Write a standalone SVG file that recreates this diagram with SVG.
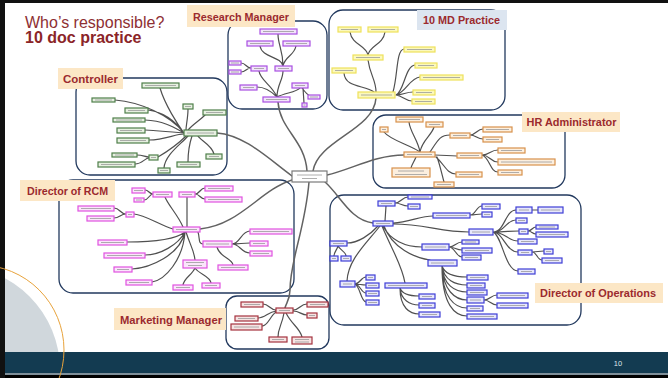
<svg xmlns="http://www.w3.org/2000/svg" width="668" height="378" viewBox="0 0 668 378">
<style>
.reg{fill:#fff;stroke:#22395e;stroke-width:1.3}
.lab{fill:#fce7c6}
.labt{font-family:"Liberation Sans",Arial,sans-serif;font-weight:bold;font-size:11.5px;fill:#9b2a2e;text-anchor:middle}
.e{fill:none;stroke:#505050;stroke-width:1.2;stroke-linecap:round}
.m{fill:none;stroke:#626262;stroke-width:1.5;stroke-linecap:round}
.n rect{stroke-width:1.2}
.n path{fill:none;stroke:#9a9a9a;stroke-width:0.8}
.rm rect{fill:#f2e5fa;stroke:#a94fe2}
.md rect{fill:#fbf8bd;stroke:#eee25a}
.ct rect{fill:#e7f0e1;stroke:#4f7f4a}
.hr rect{fill:#fcefdf;stroke:#d8914c}
.rc rect{fill:#fbe5fb;stroke:#e052e0}
.op rect{fill:#e7e7fb;stroke:#3e3ed6}
.mk rect{fill:#f6e3e3;stroke:#a5323f}
.ctr rect{fill:#fff;stroke:#7a7a7a}
</style>

<!-- slide background and decoration -->
<rect x="0" y="0" width="668" height="378" fill="#fff"/>
<circle cx="-44" cy="370" r="104" fill="#d0d7dc"/>

<!-- title -->
<text x="25" y="27.5" font-family="'Liberation Sans',Arial,sans-serif" font-size="16" fill="#8e2f33">Who’s responsible?</text>
<text x="25" y="43" font-family="'Liberation Sans',Arial,sans-serif" font-size="16" font-weight="bold" fill="#8b2528">10 doc practice</text>

<!-- region frames -->
<g id="regions">
<rect class="reg" x="228" y="21" width="99" height="88" rx="14"/>
<rect class="reg" x="329" y="10" width="176" height="100" rx="14"/>
<rect class="reg" x="76" y="78" width="151" height="97" rx="14"/>
<rect class="reg" x="373" y="115" width="192" height="73" rx="13"/>
<rect class="reg" x="59" y="180" width="235" height="113" rx="14"/>
<rect class="reg" x="330" y="195" width="251" height="130" rx="14"/>
<rect class="reg" x="226" y="296" width="103" height="53" rx="11"/>
</g>

<g id="connectors">
<!-- trunk lines from the central node -->
<path class="m" d="M278,102 C280,130 305,140 307,171"/>
<path class="m" d="M376,98 C374,130 318,140 313,171"/>
<path class="m" d="M217,133 C245,135 270,160 292,176"/>
<path class="m" d="M327,175 C350,170 375,155 404,155"/>
<path class="m" d="M200,229 C240,225 260,190 292,180"/>
<path class="m" d="M325,182 C340,195 350,220 373,223"/>
<path class="m" d="M309,182 C305,230 290,260 290,290 C290,300 286,303 285,308"/>
<!-- research -->
<path class="e" d="M283,66 C283,50 278,45 278,34 M260,46 C262,58 281,56 283,66 M296,46 C294,56 285,56 283,66 M251,68 C246,68 246,63 241,63 M251,68 C246,68 246,72 241,72 M277,97 C277,85 283,80 283,71 M277,97 C272,85 260,80 259,71 M277,97 C270,90 263,87 257,87 M277,97 C285,93 297,92 300,88 M302,88 C305,92 308,95 310,96 M303,88 L304,103"/>
<!-- 10 MD -->
<path class="e" d="M350,32 C352,45 366,45 368,55 M385,32 C383,45 370,45 368,55 M368,60 C370,75 376,80 376,92 M374,92 C365,85 345,88 344,73 M393,92 C398,75 396,50 404,49 M396,95 C404,92 405,66 415,65 M396,95 C406,92 410,78 420,77 M396,95 C403,95 406,92 413,92 M396,95 C403,96 405,101 412,101"/>
<!-- controller -->
<path class="e" d="M160,88 C165,105 178,125 184,133 M115,100 C140,102 170,115 184,133 M148,110 C165,112 176,122 184,133 M188,109 C188,118 186,125 186,130 M205,115 C200,120 192,125 188,130 M145,120 C165,121 175,128 184,133 M145,130 C160,131 172,132 184,133 M149,140 C165,140 175,134 184,134 M158,157 C170,150 180,142 186,136 M137,155 C143,155 145,157 149,157 M135,164 C142,164 145,158 149,158 M164,168 C165,155 180,145 188,136 M188,162 C188,150 190,142 192,136 M214,154 C212,145 200,140 198,136"/>
<!-- HR -->
<path class="e" d="M420,152 C410,145 390,140 384,132 M420,152 C418,140 410,132 409,122 M420,152 C422,140 432,135 434,127 M430,152 C438,140 440,135 450,135 M470,135 C476,135 477,129 483,129 M470,135 C476,135 477,139 483,139 M435,155 C445,155 448,156 457,156 M482,155 C490,155 490,150 498,150 M482,155 C490,155 490,162 498,162 M482,155 C490,158 490,172 498,172 M416,157 C414,162 412,164 411,168 M436,157 C445,165 447,174 456,174 M437,157 C440,165 442,175 444,182"/>
<!-- RCM -->
<path class="e" d="M183,227 C178,215 168,205 165,197 M153,194 C149,194 149,190 145,190 M153,194 C149,194 149,200 144,200 M187,227 L187,197 M195,194 C200,194 200,188 205,188 M195,194 C200,194 200,199 205,199 M173,229 C160,225 145,215 134,214 M126,214 C120,214 120,208 114,208 M126,214 C120,214 120,218 114,218 M185,232 C175,240 150,242 127,242 M185,232 C178,245 160,255 145,255 M185,232 C180,255 150,268 132,269 M185,232 C183,260 165,280 152,282 M186,232 C190,245 194,250 195,260 M195,268 C192,275 184,278 183,285 M195,268 C200,275 210,276 211,283 M198,232 C200,238 198,244 203,244 M232,244 C240,244 241,231 250,231 M232,244 C240,244 242,243 250,243 M232,244 C240,244 241,253 250,253 M217,247 C220,258 232,258 233,265"/>
<!-- operations -->
<path class="e" d="M385,221 L386,206 M395,203 C401,203 402,197 408,197 M395,203 C401,203 402,206 408,206 M393,223 C410,222 420,216 433,216 M470,215 C476,215 476,206 482,206 M470,215 C476,215 476,214 482,214 M393,224 C425,224 440,232 469,232 M493,232 C505,232 505,210 516,210 M493,232 C505,232 506,220 516,220 M493,232 C505,232 510,231 519,231 M493,232 C505,232 508,241 518,241 M493,232 C503,232 506,252 518,252 M493,232 C502,235 505,271 518,271 M532,210 L538,210 M528,231 C532,231 532,227 536,227 M528,231 C532,231 532,234 536,234 M532,252 L544,251 M532,252 C537,252 537,260 542,260 M378,226 C370,235 358,243 347,243 M338,246 C337,250 334,252 334,256 M338,246 C340,250 346,252 346,256 M383,226 C390,240 405,247 422,247 M449,247 C455,247 456,242 462,242 M449,247 C455,247 456,250 462,250 M449,247 C455,247 456,257 462,257 M384,226 C392,248 415,258 430,260 M442,266 C445,275 455,277 467,277 M442,266 C444,280 455,285 467,285 M442,266 C443,285 455,292 467,292 M442,266 C443,290 455,300 467,300 M442,266 C442,298 455,308 467,308 M442,266 C442,305 455,316 467,316 M484,300 C490,300 491,295 497,295 M484,300 C490,300 491,305 497,305 M380,226 C365,245 348,260 347,281 M355,284 C360,284 361,277 366,277 M355,284 C360,284 361,285 366,285 M355,284 C360,284 361,293 366,293 M355,284 C360,286 361,302 366,302 M382,226 C392,250 402,265 405,283 M400,288 C402,294 410,296 419,296 M400,288 C401,300 410,305 419,305 M400,288 C400,308 410,314 419,314"/>
<!-- marketing -->
<path class="e" d="M276,310 C270,310 269,304 263,304 M276,311 C268,312 265,318 258,318 M276,312 C270,316 268,326 262,326 M293,310 C300,310 300,304 307,304 M293,311 C300,311 301,315 307,315 M284,313 C282,325 278,328 278,337 M286,313 C292,325 300,328 302,337"/>
</g>

<!-- central node -->
<g id="center" class="n ctr"><rect x="292" y="171" width="35" height="11"/><path d="M297 175H322 M302 178.5H317"/></g>

<!-- research manager map -->
<g id="r1" class="n rm"><rect x="260" y="29" width="37" height="5"/><path d="M263 31.5H294"/></g>
<g id="r2" class="n rm"><rect x="247" y="41" width="26" height="5"/><path d="M250 43.5H270"/></g>
<g id="r3" class="n rm"><rect x="283" y="41" width="27" height="5"/><path d="M286 43.5H307"/></g>
<g id="r4" class="n rm"><rect x="229" y="61" width="12" height="4"/><path d="M231 63H239"/></g>
<g id="r5" class="n rm"><rect x="229" y="70" width="12" height="4"/><path d="M231 72H239"/></g>
<g id="r6" class="n rm"><rect x="251" y="66" width="16" height="5"/><path d="M254 68.5H264"/></g>
<g id="r7" class="n rm"><rect x="275" y="66" width="17" height="5"/><path d="M278 68.5H289"/></g>
<g id="r8" class="n rm"><rect x="240" y="85" width="17" height="5"/><path d="M243 87.5H254"/></g>
<g id="r9" class="n rm"><rect x="292" y="83" width="16" height="5"/><path d="M295 85.5H305"/></g>
<g id="r10" class="n rm"><rect x="263" y="97" width="27" height="5"/><path d="M266 99.5H287"/></g>
<g id="r11" class="n rm"><rect x="308" y="95" width="12" height="4"/><path d="M310 97H318"/></g>
<g id="r12" class="n rm"><rect x="302" y="103" width="5" height="4"/><path d="M303.5 105H305.5"/></g>

<!-- 10 MD practice map -->
<g id="m1" class="n md"><rect x="338" y="27" width="23" height="5"/><path d="M341 29.5H358"/></g>
<g id="m2" class="n md"><rect x="368" y="27" width="30" height="5"/><path d="M371 29.5H395"/></g>
<g id="m3" class="n md"><rect x="353" y="55" width="30" height="5"/><path d="M356 57.5H380"/></g>
<g id="m4" class="n md"><rect x="332" y="68" width="24" height="5"/><path d="M335 70.5H353"/></g>
<g id="m5" class="n md"><rect x="404" y="47" width="31" height="5"/><path d="M407 49.5H432"/></g>
<g id="m6" class="n md"><rect x="415" y="63" width="22" height="5"/><path d="M418 65.5H434"/></g>
<g id="m7" class="n md"><rect x="420" y="75" width="43" height="5"/><path d="M423 77.5H460"/></g>
<g id="m8" class="n md"><rect x="413" y="90" width="22" height="5"/><path d="M416 92.5H432"/></g>
<g id="m9" class="n md"><rect x="412" y="99" width="23" height="5"/><path d="M415 101.5H432"/></g>
<g id="m10" class="n md"><rect x="358" y="92" width="37" height="6"/><path d="M361 95H392"/></g>

<!-- controller map -->
<g id="c1" class="n ct"><rect x="142" y="83" width="37" height="5"/><path d="M145 85.5H176"/></g>
<g id="c2" class="n ct"><rect x="92" y="98" width="23" height="4"/><path d="M95 100H112"/></g>
<g id="c3" class="n ct"><rect x="125" y="108" width="23" height="5"/><path d="M128 110.5H145"/></g>
<g id="c4" class="n ct"><rect x="183" y="104" width="10" height="5"/><path d="M185 106.5H191"/></g>
<g id="c5" class="n ct"><rect x="203" y="110" width="23" height="5"/><path d="M206 112.5H223"/></g>
<g id="c6" class="n ct"><rect x="113" y="118" width="32" height="4"/><path d="M116 120H142"/></g>
<g id="c7" class="n ct"><rect x="117" y="128" width="28" height="5"/><path d="M120 130.5H142"/></g>
<g id="c8" class="n ct"><rect x="117" y="138" width="32" height="5"/><path d="M120 140.5H146"/></g>
<g id="c9" class="n ct"><rect x="184" y="130" width="33" height="6"/><path d="M187 133H214"/></g>
<g id="c10" class="n ct"><rect x="112" y="153" width="25" height="4"/><path d="M115 155H134"/></g>
<g id="c11" class="n ct"><rect x="98" y="162" width="37" height="5"/><path d="M101 164.5H132"/></g>
<g id="c12" class="n ct"><rect x="149" y="155" width="9" height="5"/><path d="M151 157.5H156"/></g>
<g id="c13" class="n ct"><rect x="158" y="168" width="12" height="5"/><path d="M160 170.5H168"/></g>
<g id="c14" class="n ct"><rect x="177" y="162" width="23" height="5"/><path d="M180 164.5H197"/></g>
<g id="c15" class="n ct"><rect x="206" y="154" width="16" height="5"/><path d="M209 156.5H219"/></g>

<!-- HR administrator map -->
<g id="h1" class="n hr"><rect x="380" y="127" width="8" height="5"/><path d="M382 129.5H386"/></g>
<g id="h2" class="n hr"><rect x="396" y="117" width="27" height="5"/><path d="M399 119.5H420"/></g>
<g id="h3" class="n hr"><rect x="426" y="122" width="17" height="5"/><path d="M429 124.5H440"/></g>
<g id="h4" class="n hr"><rect x="450" y="133" width="20" height="5"/><path d="M453 135.5H467"/></g>
<g id="h5" class="n hr"><rect x="483" y="127" width="29" height="5"/><path d="M486 129.5H509"/></g>
<g id="h6" class="n hr"><rect x="483" y="137" width="19" height="5"/><path d="M486 139.5H499"/></g>
<g id="h7" class="n hr"><rect x="404" y="152" width="31" height="5"/><path d="M407 154.5H432"/></g>
<g id="h8" class="n hr"><rect x="457" y="153" width="25" height="5"/><path d="M460 155.5H479"/></g>
<g id="h9" class="n hr"><rect x="498" y="148" width="27" height="5"/><path d="M501 150.5H522"/></g>
<g id="h10" class="n hr"><rect x="498" y="159" width="57" height="6"/><path d="M501 162H552"/></g>
<g id="h11" class="n hr"><rect x="498" y="170" width="24" height="5"/><path d="M501 172.5H519"/></g>
<g id="h12" class="n hr"><rect x="392" y="168" width="38" height="9"/><path d="M398 171H424 M395 174.5H427"/></g>
<g id="h13" class="n hr"><rect x="456" y="172" width="26" height="5"/><path d="M459 174.5H479"/></g>
<g id="h14" class="n hr"><rect x="434" y="182" width="20" height="5"/><path d="M437 184.5H451"/></g>

<!-- RCM map -->
<g id="d1" class="n rc"><rect x="132" y="188" width="13" height="5"/><path d="M134 190.5H143"/></g>
<g id="d2" class="n rc"><rect x="134" y="198" width="10" height="4"/><path d="M136 200H142"/></g>
<g id="d3" class="n rc"><rect x="153" y="192" width="19" height="5"/><path d="M156 194.5H169"/></g>
<g id="d4" class="n rc"><rect x="179" y="192" width="16" height="5"/><path d="M182 194.5H192"/></g>
<g id="d5" class="n rc"><rect x="205" y="186" width="28" height="5"/><path d="M208 188.5H230"/></g>
<g id="d6" class="n rc"><rect x="205" y="197" width="37" height="5"/><path d="M208 199.5H239"/></g>
<g id="d7" class="n rc"><rect x="78" y="206" width="36" height="5"/><path d="M81 208.5H111"/></g>
<g id="d8" class="n rc"><rect x="87" y="216" width="27" height="5"/><path d="M90 218.5H111"/></g>
<g id="d9" class="n rc"><rect x="126" y="212" width="8" height="5"/><path d="M128 214.5H132"/></g>
<g id="d10" class="n rc"><rect x="173" y="227" width="27" height="5"/><path d="M176 229.5H197"/></g>
<g id="d11" class="n rc"><rect x="98" y="240" width="29" height="5"/><path d="M101 242.5H124"/></g>
<g id="d12" class="n rc"><rect x="203" y="241" width="29" height="6"/><path d="M206 244H229"/></g>
<g id="d13" class="n rc"><rect x="250" y="229" width="42" height="5"/><path d="M253 231.5H289"/></g>
<g id="d14" class="n rc"><rect x="250" y="241" width="18" height="5"/><path d="M253 243.5H265"/></g>
<g id="d15" class="n rc"><rect x="250" y="251" width="22" height="5"/><path d="M253 253.5H269"/></g>
<g id="d16" class="n rc"><rect x="104" y="253" width="41" height="5"/><path d="M107 255.5H142"/></g>
<g id="d17" class="n rc"><rect x="114" y="267" width="18" height="5"/><path d="M117 269.5H129"/></g>
<g id="d18" class="n rc"><rect x="183" y="260" width="24" height="8"/><path d="M186 262.5H204 M188 265.5H202"/></g>
<g id="d19" class="n rc"><rect x="218" y="265" width="30" height="5"/><path d="M221 267.5H245"/></g>
<g id="d20" class="n rc"><rect x="126" y="280" width="26" height="5"/><path d="M129 282.5H149"/></g>
<g id="d21" class="n rc"><rect x="173" y="285" width="20" height="5"/><path d="M176 287.5H190"/></g>
<g id="d22" class="n rc"><rect x="202" y="283" width="18" height="5"/><path d="M205 285.5H217"/></g>

<!-- operations map -->
<g id="o1" class="n op"><rect x="378" y="201" width="17" height="5"/><path d="M381 203.5H392"/></g>
<g id="o2" class="n op"><rect x="408" y="195" width="24" height="4"/><path d="M411 197H429"/></g>
<g id="o3" class="n op"><rect x="408" y="204" width="12" height="5"/><path d="M410 206.5H418"/></g>
<g id="o4" class="n op"><rect x="373" y="221" width="20" height="5"/><path d="M376 223.5H390"/></g>
<g id="o5" class="n op"><rect x="433" y="213" width="37" height="5"/><path d="M436 215.5H467"/></g>
<g id="o6" class="n op"><rect x="482" y="204" width="18" height="5"/><path d="M485 206.5H497"/></g>
<g id="o7" class="n op"><rect x="482" y="212" width="10" height="5"/><path d="M484 214.5H490"/></g>
<g id="o8" class="n op"><rect x="469" y="229" width="24" height="6"/><path d="M472 232H490"/></g>
<g id="o9" class="n op"><rect x="516" y="207" width="16" height="6"/><path d="M519 210H529"/></g>
<g id="o10" class="n op"><rect x="538" y="207" width="25" height="6"/><path d="M541 210H560"/></g>
<g id="o11" class="n op"><rect x="516" y="218" width="11" height="5"/><path d="M518 220.5H525"/></g>
<g id="o12" class="n op"><rect x="519" y="229" width="9" height="5"/><path d="M521 231.5H526"/></g>
<g id="o13" class="n op"><rect x="536" y="225" width="22" height="4"/><path d="M539 227H555"/></g>
<g id="o14" class="n op"><rect x="536" y="232" width="32" height="5"/><path d="M539 234.5H565"/></g>
<g id="o15" class="n op"><rect x="518" y="239" width="19" height="5"/><path d="M521 241.5H534"/></g>
<g id="o16" class="n op"><rect x="518" y="250" width="14" height="5"/><path d="M521 252.5H529"/></g>
<g id="o17" class="n op"><rect x="544" y="249" width="9" height="5"/><path d="M546 251.5H551"/></g>
<g id="o18" class="n op"><rect x="542" y="258" width="20" height="5"/><path d="M545 260.5H559"/></g>
<g id="o19" class="n op"><rect x="518" y="269" width="17" height="5"/><path d="M521 271.5H532"/></g>
<g id="o20" class="n op"><rect x="330" y="241" width="17" height="5"/><path d="M333 243.5H344"/></g>
<g id="o21" class="n op"><rect x="330" y="256" width="8" height="5"/><path d="M332 258.5H336"/></g>
<g id="o22" class="n op"><rect x="341" y="256" width="10" height="5"/><path d="M343 258.5H349"/></g>
<g id="o23" class="n op"><rect x="422" y="244" width="27" height="6"/><path d="M425 247H446"/></g>
<g id="o24" class="n op"><rect x="462" y="240" width="17" height="4"/><path d="M465 242H476"/></g>
<g id="o25" class="n op"><rect x="462" y="248" width="30" height="5"/><path d="M465 250.5H489"/></g>
<g id="o26" class="n op"><rect x="462" y="255" width="19" height="5"/><path d="M465 257.5H478"/></g>
<g id="o27" class="n op"><rect x="428" y="260" width="29" height="6"/><path d="M431 263H454"/></g>
<g id="o28" class="n op"><rect x="340" y="281" width="15" height="6"/><path d="M343 284H352"/></g>
<g id="o29" class="n op"><rect x="366" y="275" width="9" height="5"/><path d="M368 277.5H373"/></g>
<g id="o30" class="n op"><rect x="366" y="283" width="13" height="5"/><path d="M368 285.5H377"/></g>
<g id="o31" class="n op"><rect x="366" y="291" width="13" height="5"/><path d="M368 293.5H377"/></g>
<g id="o32" class="n op"><rect x="366" y="300" width="13" height="5"/><path d="M368 302.5H377"/></g>
<g id="o33" class="n op"><rect x="385" y="283" width="42" height="5"/><path d="M388 285.5H424"/></g>
<g id="o34" class="n op"><rect x="419" y="294" width="16" height="5"/><path d="M422 296.5H432"/></g>
<g id="o35" class="n op"><rect x="419" y="303" width="16" height="5"/><path d="M422 305.5H432"/></g>
<g id="o36" class="n op"><rect x="419" y="312" width="21" height="5"/><path d="M422 314.5H437"/></g>
<g id="o37" class="n op"><rect x="467" y="275" width="21" height="5"/><path d="M470 277.5H485"/></g>
<g id="o38" class="n op"><rect x="467" y="283" width="18" height="5"/><path d="M470 285.5H482"/></g>
<g id="o39" class="n op"><rect x="467" y="290" width="20" height="5"/><path d="M470 292.5H484"/></g>
<g id="o40" class="n op"><rect x="467" y="297" width="17" height="6"/><path d="M470 300H481"/></g>
<g id="o41" class="n op"><rect x="467" y="306" width="16" height="5"/><path d="M470 308.5H480"/></g>
<g id="o42" class="n op"><rect x="467" y="314" width="30" height="5"/><path d="M470 316.5H494"/></g>
<g id="o43" class="n op"><rect x="497" y="293" width="31" height="5"/><path d="M500 295.5H525"/></g>
<g id="o44" class="n op"><rect x="497" y="303" width="31" height="5"/><path d="M500 305.5H525"/></g>

<!-- marketing map -->
<g id="k1" class="n mk"><rect x="241" y="302" width="22" height="5"/><path d="M244 304.5H260"/></g>
<g id="k2" class="n mk"><rect x="235" y="316" width="23" height="5"/><path d="M238 318.5H255"/></g>
<g id="k3" class="n mk"><rect x="231" y="324" width="31" height="6"/><path d="M234 327H259"/></g>
<g id="k4" class="n mk"><rect x="276" y="308" width="17" height="5"/><path d="M279 310.5H290"/></g>
<g id="k5" class="n mk"><rect x="307" y="302" width="21" height="5"/><path d="M310 304.5H325"/></g>
<g id="k6" class="n mk"><rect x="307" y="313" width="10" height="5"/><path d="M309 315.5H315"/></g>
<g id="k7" class="n mk"><rect x="269" y="337" width="18" height="5"/><path d="M272 339.5H284"/></g>
<g id="k8" class="n mk"><rect x="292" y="337" width="20" height="7"/><path d="M295 339.5H309 M295 342H309"/></g>

<!-- role labels -->
<g id="lab-research"><rect class="lab" x="187" y="5" width="108" height="22"/><text class="labt" x="241" y="21" textLength="96" lengthAdjust="spacingAndGlyphs">Research Manager</text></g>
<g id="lab-md"><rect x="417" y="10" width="90" height="20" fill="#dce5f0"/><text class="labt" x="461.5" y="24" textLength="77" lengthAdjust="spacingAndGlyphs">10 MD Practice</text></g>
<g id="lab-controller"><rect class="lab" x="58" y="68" width="65" height="21"/><text class="labt" x="90.5" y="82.5" textLength="55" lengthAdjust="spacingAndGlyphs">Controller</text></g>
<g id="lab-hr"><rect class="lab" x="522" y="112" width="98" height="20"/><text class="labt" x="571.5" y="125.5" textLength="90" lengthAdjust="spacingAndGlyphs">HR Administrator</text></g>
<g id="lab-rcm"><rect class="lab" x="20" y="180" width="95" height="21"/><text class="labt" x="67.5" y="194.5" textLength="81" lengthAdjust="spacingAndGlyphs">Director of RCM</text></g>
<g id="lab-ops"><rect class="lab" x="535" y="283" width="128" height="20"/><text class="labt" x="598" y="297" textLength="116" lengthAdjust="spacingAndGlyphs">Director of Operations</text></g>
<g id="lab-mkt"><rect class="lab" x="114" y="308" width="112" height="22"/><text class="labt" x="171" y="323.5" textLength="102" lengthAdjust="spacingAndGlyphs">Marketing Manager</text></g>

<!-- footer band and frame -->
<rect x="0" y="352" width="668" height="21" fill="#133b51"/>
<rect x="0" y="373" width="668" height="2" fill="#7f8f99"/>
<rect x="0" y="375" width="668" height="3" fill="#000"/>
<rect x="0" y="0" width="668" height="3" fill="#111"/>
<rect x="0" y="0" width="5" height="378" fill="#111"/>
<circle cx="-21" cy="350" r="85" fill="none" stroke="#e8a33c" stroke-width="1"/>
<text x="618" y="366" font-family="'Liberation Sans',Arial,sans-serif" font-size="7.5" fill="#dfe6ea" text-anchor="middle">10</text>
</svg>
